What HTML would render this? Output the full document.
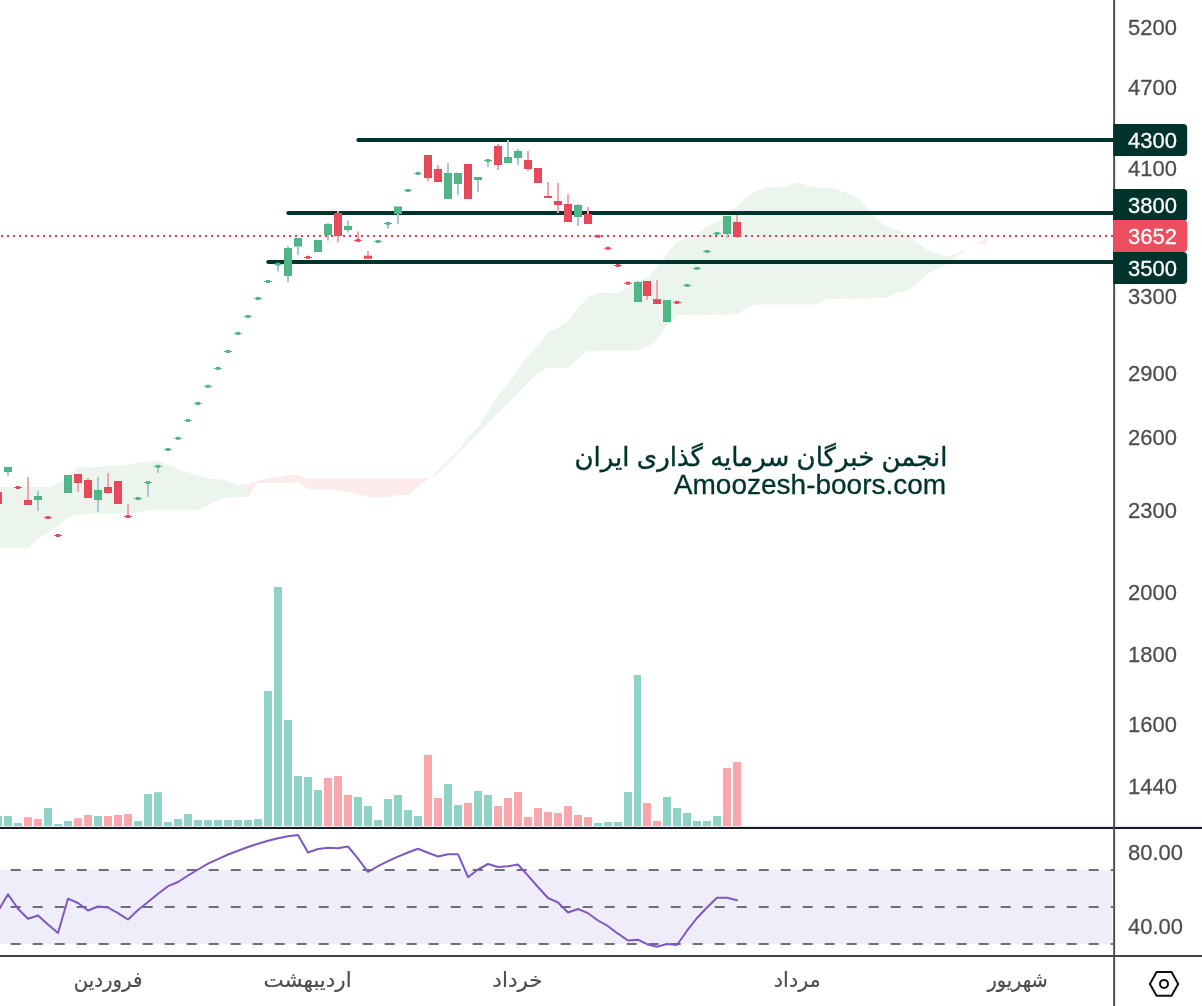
<!DOCTYPE html>
<html lang="fa"><head><meta charset="utf-8"><title>Chart</title><style>html,body{margin:0;padding:0;background:#fff}body{width:1202px;height:1006px;overflow:hidden}</style></head><body>
<svg width="1202" height="1006" viewBox="0 0 1202 1006" style="display:block">
<rect width="1202" height="1006" fill="#fff"/>
<polygon fill="#ecf5ed" points="0.0,487.0 50.0,487.0 62.0,481.0 77.0,467.5 120.0,465.5 138.0,462.7 158.0,461.0 185.0,471.5 200.0,475.7 208.6,479.0 218.0,479.0 227.0,480.7 238.0,485.0 248.0,484.0 248.0,496.7 227.0,497.4 218.0,500.0 198.0,510.0 148.0,510.0 135.0,513.0 77.0,514.5 68.0,517.5 57.0,526.5 40.0,537.5 28.0,548.0 0.0,548.0"/>
<polygon fill="#fdebec" points="248.0,484.0 258.0,481.0 268.0,478.5 288.0,475.0 298.0,475.0 308.0,478.3 430.3,478.3 430.3,477.8 419.0,485.5 408.0,495.0 398.0,495.0 389.0,497.0 368.0,497.0 355.0,493.5 340.0,491.3 328.0,489.0 308.0,489.0 298.0,481.8 288.0,482.9 257.0,482.9 248.0,496.7"/>
<polygon fill="#ecf5ed" points="430.3,477.6 457.5,451.7 467.8,437.5 478.0,427.0 498.0,396.0 507.9,384.0 524.7,360.0 538.0,345.0 548.0,332.5 558.0,327.5 568.0,320.9 578.0,307.9 588.0,296.9 598.0,293.1 618.0,292.9 628.0,286.9 638.0,282.0 648.0,277.5 658.0,266.0 667.0,254.0 677.0,241.4 687.0,237.9 697.0,233.9 707.0,226.9 717.0,220.9 727.0,214.5 737.0,206.0 747.0,197.0 757.0,190.5 767.0,187.2 786.5,187.0 797.0,182.3 807.0,185.6 817.0,187.3 836.0,189.0 846.0,192.7 857.0,197.0 867.6,207.9 877.0,219.8 887.0,226.7 906.6,233.8 916.0,241.4 926.6,249.6 937.0,253.0 947.0,256.5 966.6,249.6 966.6,249.6 954.0,258.7 945.0,265.0 927.5,274.0 915.8,285.0 906.6,291.6 897.0,292.0 887.0,298.0 826.5,298.7 817.0,304.5 757.0,304.5 748.7,306.7 737.7,314.0 720.0,314.5 680.0,314.9 676.0,315.9 670.0,321.9 656.0,340.0 647.5,347.0 637.5,350.5 587.5,351.0 568.0,367.5 548.0,367.8 537.6,373.0 438.0,474.3 430.3,477.6"/>
<polygon fill="#fdebec" points="966.6,249.6 987.0,237.5 987.0,243.7 978.0,243.7 966.6,249.6"/>
<line x1="358.3" y1="140" x2="1116" y2="140" stroke="#00332b" stroke-width="4" stroke-linecap="round"/>
<line x1="288.3" y1="213" x2="1116" y2="213" stroke="#00332b" stroke-width="4" stroke-linecap="round"/>
<line x1="268.3" y1="262" x2="1116" y2="262" stroke="#00332b" stroke-width="4" stroke-linecap="round"/>
<line x1="1.0" y1="236" x2="1114" y2="236" stroke="#e8394f" stroke-width="2" stroke-dasharray="2 4"/>
<rect x="-5.5" y="492.5" width="7" height="11.0" fill="#e84a5b" stroke="#e74456" stroke-width="1"/>
<rect x="7.0" y="472.0" width="2" height="4.0" fill="#a5c9d4"/>
<rect x="4.5" y="467.5" width="7" height="4.0" fill="#52b788" stroke="#4bb381" stroke-width="1"/>
<rect x="14.0" y="487.0" width="8" height="1" fill="#e84a5b"/>
<rect x="16.0" y="486.0" width="4" height="3" fill="#e84a5b"/>
<rect x="27.0" y="477.0" width="2" height="23.0" fill="#f4a4ae"/>
<rect x="24.5" y="500.5" width="7" height="4.0" fill="#e84a5b" stroke="#e74456" stroke-width="1"/>
<rect x="37.0" y="491.0" width="2" height="5.0" fill="#a5c9d4"/>
<rect x="37.0" y="500.0" width="2" height="11.0" fill="#a5c9d4"/>
<rect x="34.5" y="496.5" width="7" height="3.0" fill="#52b788" stroke="#4bb381" stroke-width="1"/>
<rect x="44.0" y="517.0" width="8" height="1" fill="#e84a5b"/>
<rect x="46.0" y="516.0" width="4" height="3" fill="#e84a5b"/>
<rect x="54.0" y="535.0" width="8" height="1" fill="#e84a5b"/>
<rect x="56.0" y="534.0" width="4" height="3" fill="#e84a5b"/>
<rect x="64.5" y="475.5" width="7" height="17.0" fill="#52b788" stroke="#4bb381" stroke-width="1"/>
<rect x="77.0" y="483.0" width="2" height="9.0" fill="#f4a4ae"/>
<rect x="74.5" y="474.5" width="7" height="8.0" fill="#e84a5b" stroke="#e74456" stroke-width="1"/>
<rect x="87.0" y="478.0" width="2" height="2.0" fill="#f4a4ae"/>
<rect x="84.5" y="480.5" width="7" height="17.0" fill="#e84a5b" stroke="#e74456" stroke-width="1"/>
<rect x="97.0" y="477.0" width="2" height="13.0" fill="#a5c9d4"/>
<rect x="97.0" y="500.0" width="2" height="12.0" fill="#a5c9d4"/>
<rect x="94.5" y="490.5" width="7" height="9.0" fill="#52b788" stroke="#4bb381" stroke-width="1"/>
<rect x="107.0" y="473.0" width="2" height="14.0" fill="#f4a4ae"/>
<rect x="107.0" y="493.0" width="2" height="1.0" fill="#f4a4ae"/>
<rect x="104.5" y="487.5" width="7" height="5.0" fill="#e84a5b" stroke="#e74456" stroke-width="1"/>
<rect x="114.5" y="481.5" width="7" height="22.0" fill="#e84a5b" stroke="#e74456" stroke-width="1"/>
<rect x="127.0" y="504.0" width="2" height="12.5" fill="#f4a4ae"/>
<rect x="124.0" y="516.0" width="8" height="1" fill="#e84a5b"/>
<rect x="126.0" y="515.0" width="4" height="3" fill="#e84a5b"/>
<rect x="134.0" y="498.0" width="8" height="1" fill="#52b788"/>
<rect x="136.0" y="497.0" width="4" height="3" fill="#52b788"/>
<rect x="147.0" y="482.5" width="2" height="14.5" fill="#a5c9d4"/>
<rect x="144.0" y="482.0" width="8" height="1" fill="#52b788"/>
<rect x="146.0" y="481.0" width="4" height="3" fill="#52b788"/>
<rect x="157.0" y="466.3" width="2" height="6.7" fill="#a5c9d4"/>
<rect x="154.0" y="465.8" width="8" height="1" fill="#52b788"/>
<rect x="156.0" y="464.8" width="4" height="3" fill="#52b788"/>
<rect x="164.0" y="449.0" width="8" height="1" fill="#52b788"/>
<rect x="166.0" y="448.0" width="4" height="3" fill="#52b788"/>
<rect x="174.0" y="437.8" width="8" height="1" fill="#52b788"/>
<rect x="176.0" y="436.8" width="4" height="3" fill="#52b788"/>
<rect x="184.0" y="419.9" width="8" height="1" fill="#52b788"/>
<rect x="186.0" y="418.9" width="4" height="3" fill="#52b788"/>
<rect x="194.0" y="402.9" width="8" height="1" fill="#52b788"/>
<rect x="196.0" y="401.9" width="4" height="3" fill="#52b788"/>
<rect x="204.0" y="385.8" width="8" height="1" fill="#52b788"/>
<rect x="206.0" y="384.8" width="4" height="3" fill="#52b788"/>
<rect x="214.0" y="367.9" width="8" height="1" fill="#52b788"/>
<rect x="216.0" y="366.9" width="4" height="3" fill="#52b788"/>
<rect x="224.0" y="351.0" width="8" height="1" fill="#52b788"/>
<rect x="226.0" y="350.0" width="4" height="3" fill="#52b788"/>
<rect x="234.0" y="332.9" width="8" height="1" fill="#52b788"/>
<rect x="236.0" y="331.9" width="4" height="3" fill="#52b788"/>
<rect x="244.0" y="315.9" width="8" height="1" fill="#52b788"/>
<rect x="246.0" y="314.9" width="4" height="3" fill="#52b788"/>
<rect x="254.0" y="298.0" width="8" height="1" fill="#52b788"/>
<rect x="256.0" y="297.0" width="4" height="3" fill="#52b788"/>
<rect x="264.0" y="281.0" width="8" height="1" fill="#52b788"/>
<rect x="266.0" y="280.0" width="4" height="3" fill="#52b788"/>
<rect x="277.0" y="264.2" width="2" height="7.3" fill="#a5c9d4"/>
<rect x="274.0" y="263.7" width="8" height="1" fill="#52b788"/>
<rect x="276.0" y="262.7" width="4" height="3" fill="#52b788"/>
<rect x="287.0" y="246.0" width="2" height="2.0" fill="#a5c9d4"/>
<rect x="287.0" y="276.0" width="2" height="6.0" fill="#a5c9d4"/>
<rect x="284.5" y="248.5" width="7" height="27.0" fill="#52b788" stroke="#4bb381" stroke-width="1"/>
<rect x="297.0" y="246.5" width="2" height="8.5" fill="#a5c9d4"/>
<rect x="294.5" y="238.5" width="7" height="7.5" fill="#52b788" stroke="#4bb381" stroke-width="1"/>
<rect x="304.0" y="256.9" width="8" height="1" fill="#e84a5b"/>
<rect x="306.0" y="255.9" width="4" height="3" fill="#e84a5b"/>
<rect x="314.5" y="240.5" width="7" height="11.0" fill="#52b788" stroke="#4bb381" stroke-width="1"/>
<rect x="327.0" y="223.0" width="2" height="1.0" fill="#a5c9d4"/>
<rect x="327.0" y="235.0" width="2" height="5.5" fill="#a5c9d4"/>
<rect x="324.5" y="224.5" width="7" height="10.0" fill="#52b788" stroke="#4bb381" stroke-width="1"/>
<rect x="337.0" y="211.0" width="2" height="2.0" fill="#f4a4ae"/>
<rect x="337.0" y="236.0" width="2" height="6.5" fill="#f4a4ae"/>
<rect x="334.5" y="213.5" width="7" height="22.0" fill="#e84a5b" stroke="#e74456" stroke-width="1"/>
<rect x="347.0" y="220.5" width="2" height="5.5" fill="#a5c9d4"/>
<rect x="347.0" y="230.0" width="2" height="2.5" fill="#a5c9d4"/>
<rect x="344.5" y="226.5" width="7" height="3.0" fill="#52b788" stroke="#4bb381" stroke-width="1"/>
<rect x="357.0" y="231.4" width="2" height="9.0" fill="#f4a4ae"/>
<rect x="354.0" y="239.9" width="8" height="1" fill="#e84a5b"/>
<rect x="356.0" y="238.9" width="4" height="3" fill="#e84a5b"/>
<rect x="367.0" y="251.0" width="2" height="4.7" fill="#f4a4ae"/>
<rect x="364.5" y="256.2" width="7" height="2.0" fill="#e84a5b" stroke="#e74456" stroke-width="1"/>
<rect x="374.0" y="240.9" width="8" height="1" fill="#52b788"/>
<rect x="376.0" y="239.9" width="4" height="3" fill="#52b788"/>
<rect x="387.0" y="223.5" width="2" height="5.0" fill="#a5c9d4"/>
<rect x="384.0" y="223.0" width="8" height="1" fill="#52b788"/>
<rect x="386.0" y="222.0" width="4" height="3" fill="#52b788"/>
<rect x="397.0" y="214.0" width="2" height="10.0" fill="#a5c9d4"/>
<rect x="394.5" y="207.0" width="7" height="6.5" fill="#52b788" stroke="#4bb381" stroke-width="1"/>
<rect x="404.0" y="189.9" width="8" height="1" fill="#52b788"/>
<rect x="406.0" y="188.9" width="4" height="3" fill="#52b788"/>
<rect x="414.0" y="172.9" width="8" height="1" fill="#52b788"/>
<rect x="416.0" y="171.9" width="4" height="3" fill="#52b788"/>
<rect x="427.0" y="178.0" width="2" height="3.0" fill="#f4a4ae"/>
<rect x="424.5" y="155.5" width="7" height="22.0" fill="#e84a5b" stroke="#e74456" stroke-width="1"/>
<rect x="437.0" y="165.0" width="2" height="4.0" fill="#f4a4ae"/>
<rect x="434.5" y="169.5" width="7" height="12.0" fill="#e84a5b" stroke="#e74456" stroke-width="1"/>
<rect x="447.0" y="163.0" width="2" height="10.0" fill="#a5c9d4"/>
<rect x="444.5" y="173.5" width="7" height="25.0" fill="#52b788" stroke="#4bb381" stroke-width="1"/>
<rect x="457.0" y="184.0" width="2" height="11.0" fill="#a5c9d4"/>
<rect x="454.5" y="173.5" width="7" height="10.0" fill="#52b788" stroke="#4bb381" stroke-width="1"/>
<rect x="464.5" y="164.5" width="7" height="34.0" fill="#e84a5b" stroke="#e74456" stroke-width="1"/>
<rect x="477.0" y="180.0" width="2" height="12.0" fill="#a5c9d4"/>
<rect x="474.5" y="177.5" width="7" height="2.0" fill="#52b788" stroke="#4bb381" stroke-width="1"/>
<rect x="487.0" y="160.5" width="2" height="6.5" fill="#a5c9d4"/>
<rect x="484.0" y="160.0" width="8" height="1" fill="#52b788"/>
<rect x="486.0" y="159.0" width="4" height="3" fill="#52b788"/>
<rect x="497.0" y="144.0" width="2" height="2.0" fill="#f4a4ae"/>
<rect x="497.0" y="165.0" width="2" height="5.0" fill="#f4a4ae"/>
<rect x="494.5" y="146.5" width="7" height="18.0" fill="#e84a5b" stroke="#e74456" stroke-width="1"/>
<rect x="507.0" y="140.0" width="2" height="17.0" fill="#a5c9d4"/>
<rect x="504.5" y="157.5" width="7" height="5.0" fill="#52b788" stroke="#4bb381" stroke-width="1"/>
<rect x="517.0" y="149.0" width="2" height="2.0" fill="#a5c9d4"/>
<rect x="517.0" y="158.0" width="2" height="7.0" fill="#a5c9d4"/>
<rect x="514.5" y="151.5" width="7" height="6.0" fill="#52b788" stroke="#4bb381" stroke-width="1"/>
<rect x="527.0" y="151.0" width="2" height="9.0" fill="#f4a4ae"/>
<rect x="527.0" y="169.0" width="2" height="2.0" fill="#f4a4ae"/>
<rect x="524.5" y="160.5" width="7" height="8.0" fill="#e84a5b" stroke="#e74456" stroke-width="1"/>
<rect x="534.5" y="168.5" width="7" height="14.0" fill="#e84a5b" stroke="#e74456" stroke-width="1"/>
<rect x="547.0" y="182.0" width="2" height="14.0" fill="#f4a4ae"/>
<rect x="544.0" y="196.0" width="8" height="2.0" fill="#e74456"/>
<rect x="557.0" y="183.0" width="2" height="18.0" fill="#f4a4ae"/>
<rect x="557.0" y="205.0" width="2" height="8.0" fill="#f4a4ae"/>
<rect x="554.5" y="201.5" width="7" height="3.0" fill="#e84a5b" stroke="#e74456" stroke-width="1"/>
<rect x="567.0" y="194.0" width="2" height="10.0" fill="#f4a4ae"/>
<rect x="564.5" y="204.5" width="7" height="17.0" fill="#e84a5b" stroke="#e74456" stroke-width="1"/>
<rect x="577.0" y="204.0" width="2" height="1.0" fill="#a5c9d4"/>
<rect x="577.0" y="217.0" width="2" height="9.0" fill="#a5c9d4"/>
<rect x="574.5" y="205.5" width="7" height="11.0" fill="#52b788" stroke="#4bb381" stroke-width="1"/>
<rect x="587.0" y="207.0" width="2" height="7.0" fill="#f4a4ae"/>
<rect x="584.5" y="214.5" width="7" height="9.0" fill="#e84a5b" stroke="#e74456" stroke-width="1"/>
<rect x="594.0" y="235.8" width="8" height="1" fill="#e84a5b"/>
<rect x="596.0" y="234.8" width="4" height="3" fill="#e84a5b"/>
<rect x="604.0" y="247.8" width="8" height="1" fill="#e84a5b"/>
<rect x="606.0" y="246.8" width="4" height="3" fill="#e84a5b"/>
<rect x="614.0" y="265.0" width="8" height="1" fill="#e84a5b"/>
<rect x="616.0" y="264.0" width="4" height="3" fill="#e84a5b"/>
<rect x="624.0" y="282.7" width="8" height="1" fill="#e84a5b"/>
<rect x="626.0" y="281.7" width="4" height="3" fill="#e84a5b"/>
<rect x="637.0" y="281.0" width="2" height="1.0" fill="#a5c9d4"/>
<rect x="634.5" y="282.5" width="7" height="19.0" fill="#52b788" stroke="#4bb381" stroke-width="1"/>
<rect x="646.0" y="296.0" width="2" height="4.0" fill="#f4a4ae"/>
<rect x="643.5" y="281.5" width="7" height="14.0" fill="#e84a5b" stroke="#e74456" stroke-width="1"/>
<rect x="656.0" y="280.0" width="2" height="19.2" fill="#f4a4ae"/>
<rect x="653.5" y="299.7" width="7" height="3.8" fill="#e84a5b" stroke="#e74456" stroke-width="1"/>
<rect x="663.5" y="300.5" width="7" height="21.0" fill="#52b788" stroke="#4bb381" stroke-width="1"/>
<rect x="673.0" y="301.9" width="8" height="1" fill="#e84a5b"/>
<rect x="675.0" y="300.9" width="4" height="3" fill="#e84a5b"/>
<rect x="683.0" y="284.9" width="8" height="1" fill="#52b788"/>
<rect x="685.0" y="283.9" width="4" height="3" fill="#52b788"/>
<rect x="693.0" y="267.9" width="8" height="1" fill="#52b788"/>
<rect x="695.0" y="266.9" width="4" height="3" fill="#52b788"/>
<rect x="703.0" y="250.9" width="8" height="1" fill="#52b788"/>
<rect x="705.0" y="249.9" width="4" height="3" fill="#52b788"/>
<rect x="713.0" y="232.9" width="8" height="1" fill="#52b788"/>
<rect x="715.0" y="231.9" width="4" height="3" fill="#52b788"/>
<rect x="726.0" y="234.0" width="2" height="4.0" fill="#a5c9d4"/>
<rect x="723.5" y="216.5" width="7" height="17.0" fill="#52b788" stroke="#4bb381" stroke-width="1"/>
<rect x="736.0" y="215.0" width="2" height="7.0" fill="#f4a4ae"/>
<rect x="736.0" y="237.0" width="2" height="1.0" fill="#f4a4ae"/>
<rect x="733.5" y="222.5" width="7" height="14.0" fill="#e84a5b" stroke="#e74456" stroke-width="1"/>
<rect x="-6.0" y="816.0" width="8.0" height="10.0" fill="#8fd3c6"/>
<rect x="4.0" y="816.0" width="8.0" height="10.0" fill="#8fd3c6"/>
<rect x="14.0" y="823.0" width="8.0" height="3.0" fill="#8fd3c6"/>
<rect x="24.0" y="817.2" width="8.0" height="8.8" fill="#f9a7ad"/>
<rect x="34.0" y="819.0" width="8.0" height="7.0" fill="#f9a7ad"/>
<rect x="44.0" y="808.0" width="8.0" height="18.0" fill="#8fd3c6"/>
<rect x="54.0" y="824.0" width="8.0" height="2.0" fill="#8fd3c6"/>
<rect x="64.0" y="821.0" width="8.0" height="5.0" fill="#8fd3c6"/>
<rect x="74.0" y="818.2" width="8.0" height="7.8" fill="#f9a7ad"/>
<rect x="84.0" y="815.0" width="8.0" height="11.0" fill="#f9a7ad"/>
<rect x="94.0" y="816.0" width="8.0" height="10.0" fill="#8fd3c6"/>
<rect x="104.0" y="816.0" width="8.0" height="10.0" fill="#f9a7ad"/>
<rect x="114.0" y="815.0" width="8.0" height="11.0" fill="#f9a7ad"/>
<rect x="124.0" y="814.0" width="8.0" height="12.0" fill="#f9a7ad"/>
<rect x="134.0" y="821.0" width="8.0" height="5.0" fill="#8fd3c6"/>
<rect x="144.0" y="794.0" width="8.0" height="32.0" fill="#8fd3c6"/>
<rect x="154.0" y="792.2" width="8.0" height="33.8" fill="#8fd3c6"/>
<rect x="164.0" y="822.0" width="8.0" height="4.0" fill="#8fd3c6"/>
<rect x="174.0" y="819.0" width="8.0" height="7.0" fill="#8fd3c6"/>
<rect x="184.0" y="814.0" width="8.0" height="12.0" fill="#8fd3c6"/>
<rect x="194.0" y="820.0" width="8.0" height="6.0" fill="#8fd3c6"/>
<rect x="204.0" y="820.0" width="8.0" height="6.0" fill="#8fd3c6"/>
<rect x="214.0" y="820.0" width="8.0" height="6.0" fill="#8fd3c6"/>
<rect x="224.0" y="820.0" width="8.0" height="6.0" fill="#8fd3c6"/>
<rect x="234.0" y="820.0" width="8.0" height="6.0" fill="#8fd3c6"/>
<rect x="244.0" y="820.0" width="8.0" height="6.0" fill="#8fd3c6"/>
<rect x="254.0" y="819.0" width="8.0" height="7.0" fill="#8fd3c6"/>
<rect x="264.0" y="691.0" width="8.0" height="135.0" fill="#8fd3c6"/>
<rect x="274.0" y="587.0" width="8.0" height="239.0" fill="#8fd3c6"/>
<rect x="284.0" y="720.0" width="8.0" height="106.0" fill="#8fd3c6"/>
<rect x="294.0" y="776.0" width="8.0" height="50.0" fill="#8fd3c6"/>
<rect x="304.0" y="777.0" width="8.0" height="49.0" fill="#8fd3c6"/>
<rect x="314.0" y="790.0" width="8.0" height="36.0" fill="#8fd3c6"/>
<rect x="324.0" y="778.0" width="8.0" height="48.0" fill="#f9a7ad"/>
<rect x="334.0" y="776.0" width="8.0" height="50.0" fill="#f9a7ad"/>
<rect x="344.0" y="795.0" width="8.0" height="31.0" fill="#f9a7ad"/>
<rect x="354.0" y="797.0" width="8.0" height="29.0" fill="#8fd3c6"/>
<rect x="364.0" y="806.0" width="8.0" height="20.0" fill="#8fd3c6"/>
<rect x="374.0" y="820.0" width="8.0" height="6.0" fill="#8fd3c6"/>
<rect x="384.0" y="799.0" width="8.0" height="27.0" fill="#8fd3c6"/>
<rect x="394.0" y="795.0" width="8.0" height="31.0" fill="#8fd3c6"/>
<rect x="404.0" y="810.0" width="8.0" height="16.0" fill="#8fd3c6"/>
<rect x="414.0" y="816.0" width="8.0" height="10.0" fill="#8fd3c6"/>
<rect x="424.0" y="755.0" width="8.0" height="71.0" fill="#f9a7ad"/>
<rect x="434.0" y="798.0" width="8.0" height="28.0" fill="#f9a7ad"/>
<rect x="444.0" y="784.0" width="8.0" height="42.0" fill="#8fd3c6"/>
<rect x="454.0" y="805.0" width="8.0" height="21.0" fill="#8fd3c6"/>
<rect x="464.0" y="803.0" width="8.0" height="23.0" fill="#f9a7ad"/>
<rect x="474.0" y="791.0" width="8.0" height="35.0" fill="#8fd3c6"/>
<rect x="484.0" y="795.0" width="8.0" height="31.0" fill="#8fd3c6"/>
<rect x="494.0" y="806.0" width="8.0" height="20.0" fill="#f9a7ad"/>
<rect x="504.0" y="798.0" width="8.0" height="28.0" fill="#f9a7ad"/>
<rect x="514.0" y="792.0" width="8.0" height="34.0" fill="#f9a7ad"/>
<rect x="524.0" y="817.0" width="8.0" height="9.0" fill="#f9a7ad"/>
<rect x="534.0" y="808.0" width="8.0" height="18.0" fill="#f9a7ad"/>
<rect x="544.0" y="812.0" width="8.0" height="14.0" fill="#f9a7ad"/>
<rect x="554.0" y="813.0" width="8.0" height="13.0" fill="#f9a7ad"/>
<rect x="564.0" y="806.0" width="8.0" height="20.0" fill="#f9a7ad"/>
<rect x="574.0" y="815.0" width="8.0" height="11.0" fill="#f9a7ad"/>
<rect x="584.0" y="817.0" width="8.0" height="9.0" fill="#f9a7ad"/>
<rect x="594.0" y="823.0" width="8.0" height="3.0" fill="#8fd3c6"/>
<rect x="604.0" y="822.0" width="8.0" height="4.0" fill="#8fd3c6"/>
<rect x="614.0" y="822.0" width="8.0" height="4.0" fill="#8fd3c6"/>
<rect x="624.0" y="792.0" width="8.0" height="34.0" fill="#8fd3c6"/>
<rect x="634.0" y="675.0" width="7.0" height="151.0" fill="#8fd3c6"/>
<rect x="643.0" y="803.0" width="8.0" height="23.0" fill="#f9a7ad"/>
<rect x="653.0" y="821.0" width="8.0" height="5.0" fill="#f9a7ad"/>
<rect x="663.0" y="797.0" width="8.0" height="29.0" fill="#8fd3c6"/>
<rect x="673.0" y="808.0" width="8.0" height="18.0" fill="#8fd3c6"/>
<rect x="683.0" y="813.0" width="8.0" height="13.0" fill="#8fd3c6"/>
<rect x="693.0" y="821.0" width="8.0" height="5.0" fill="#8fd3c6"/>
<rect x="703.0" y="821.0" width="8.0" height="5.0" fill="#8fd3c6"/>
<rect x="713.0" y="816.0" width="8.0" height="10.0" fill="#8fd3c6"/>
<rect x="723.0" y="768.0" width="8.0" height="58.0" fill="#f9a7ad"/>
<rect x="733.0" y="762.0" width="8.0" height="64.0" fill="#f9a7ad"/>
<rect x="0" y="870" width="1112.5" height="74" fill="#f0edfa"/>
<line x1="-11.3" y1="870" x2="1113" y2="870" stroke="#6c6e7a" stroke-width="2" stroke-dasharray="10 12"/>
<line x1="-11.3" y1="907" x2="1113" y2="907" stroke="#6c6e7a" stroke-width="2" stroke-dasharray="10 12"/>
<line x1="-11.3" y1="944" x2="1113" y2="944" stroke="#6c6e7a" stroke-width="2" stroke-dasharray="10 12"/>
<polyline fill="none" stroke="#7e57c2" stroke-width="2" stroke-linejoin="round" stroke-linecap="round" points="-2.0,911.2 8.0,894.2 18.0,908.7 28.0,918.7 38.0,915.5 48.0,924.5 58.0,933.0 68.0,898.7 78.0,903.0 88.0,910.5 98.0,906.5 108.0,907.5 118.0,913.2 128.0,919.5 138.0,910.0 148.0,902.0 158.0,893.7 168.0,886.2 178.0,882.0 188.0,875.5 198.0,869.5 208.0,863.7 218.0,859.2 228.0,854.5 238.0,850.7 248.0,847.0 258.0,843.7 268.0,840.7 278.0,838.2 288.0,836.2 298.0,835.0 308.0,852.5 318.0,849.0 328.0,847.7 338.0,848.2 348.0,846.5 358.0,858.7 368.0,872.0 378.0,866.2 388.0,861.2 398.0,856.7 408.0,852.5 418.0,848.7 428.0,852.7 438.0,856.5 448.0,854.2 458.0,854.2 468.0,877.2 478.0,869.5 488.0,864.0 498.0,867.0 508.0,866.2 518.0,864.5 528.0,875.7 538.0,887.0 548.0,898.0 558.0,902.5 568.0,912.5 578.0,909.0 588.0,913.2 598.0,920.5 608.0,926.2 618.0,933.7 628.0,940.5 638.0,939.7 647.0,944.2 657.0,946.7 667.0,944.0 677.0,945.0 687.0,930.7 697.0,918.0 707.0,907.5 717.0,897.7 727.0,897.7 737.0,900.2"/>
<rect x="0" y="826.9" width="1202" height="2.1" fill="#171a29"/>
<rect x="0" y="955" width="1202" height="2" fill="#444"/>
<rect x="1113.2" y="0" width="1.9" height="1006" fill="#4a4a4a"/>
<text transform="translate(1128 34.6) scale(1 1.035)" font-family="'Liberation Sans',Arial,sans-serif" font-size="22" fill="#4d4d4d" stroke="#4d4d4d" stroke-width="0.25">5200</text>
<text transform="translate(1128 94.5) scale(1 1.035)" font-family="'Liberation Sans',Arial,sans-serif" font-size="22" fill="#4d4d4d" stroke="#4d4d4d" stroke-width="0.25">4700</text>
<text transform="translate(1128 175.8) scale(1 1.035)" font-family="'Liberation Sans',Arial,sans-serif" font-size="22" fill="#4d4d4d" stroke="#4d4d4d" stroke-width="0.25">4100</text>
<text transform="translate(1128 303.7) scale(1 1.035)" font-family="'Liberation Sans',Arial,sans-serif" font-size="22" fill="#4d4d4d" stroke="#4d4d4d" stroke-width="0.25">3300</text>
<text transform="translate(1128 380.7) scale(1 1.035)" font-family="'Liberation Sans',Arial,sans-serif" font-size="22" fill="#4d4d4d" stroke="#4d4d4d" stroke-width="0.25">2900</text>
<text transform="translate(1128 444.7) scale(1 1.035)" font-family="'Liberation Sans',Arial,sans-serif" font-size="22" fill="#4d4d4d" stroke="#4d4d4d" stroke-width="0.25">2600</text>
<text transform="translate(1128 517.7) scale(1 1.035)" font-family="'Liberation Sans',Arial,sans-serif" font-size="22" fill="#4d4d4d" stroke="#4d4d4d" stroke-width="0.25">2300</text>
<text transform="translate(1128 599.7) scale(1 1.035)" font-family="'Liberation Sans',Arial,sans-serif" font-size="22" fill="#4d4d4d" stroke="#4d4d4d" stroke-width="0.25">2000</text>
<text transform="translate(1128 661.7) scale(1 1.035)" font-family="'Liberation Sans',Arial,sans-serif" font-size="22" fill="#4d4d4d" stroke="#4d4d4d" stroke-width="0.25">1800</text>
<text transform="translate(1128 731.7) scale(1 1.035)" font-family="'Liberation Sans',Arial,sans-serif" font-size="22" fill="#4d4d4d" stroke="#4d4d4d" stroke-width="0.25">1600</text>
<text transform="translate(1128 793.7) scale(1 1.035)" font-family="'Liberation Sans',Arial,sans-serif" font-size="22" fill="#4d4d4d" stroke="#4d4d4d" stroke-width="0.25">1440</text>
<text transform="translate(1128 859.7) scale(1 1.035)" font-family="'Liberation Sans',Arial,sans-serif" font-size="22" fill="#4d4d4d" stroke="#4d4d4d" stroke-width="0.25">80.00</text>
<text transform="translate(1128 933.7) scale(1 1.035)" font-family="'Liberation Sans',Arial,sans-serif" font-size="22" fill="#4d4d4d" stroke="#4d4d4d" stroke-width="0.25">40.00</text>
<path d="M1113.2 124 h70 a4 4 0 0 1 4 4 v24 a4 4 0 0 1 -4 4 h-70 z" fill="#00332b"/>
<text transform="translate(1128 148.2) scale(1 1.035)" font-family="'Liberation Sans',Arial,sans-serif" font-size="22" fill="#fff" stroke="#fff" stroke-width="0.3">4300</text>
<path d="M1113.2 189 h70 a4 4 0 0 1 4 4 v24 a4 4 0 0 1 -4 4 h-70 z" fill="#00332b"/>
<text transform="translate(1128 213.2) scale(1 1.035)" font-family="'Liberation Sans',Arial,sans-serif" font-size="22" fill="#fff" stroke="#fff" stroke-width="0.3">3800</text>
<path d="M1113.2 220 h70 a4 4 0 0 1 4 4 v24 a4 4 0 0 1 -4 4 h-70 z" fill="#ec4d5f"/>
<text transform="translate(1128 244.2) scale(1 1.035)" font-family="'Liberation Sans',Arial,sans-serif" font-size="22" fill="#fff" stroke="#fff" stroke-width="0.3">3652</text>
<path d="M1113.2 252 h70 a4 4 0 0 1 4 4 v24 a4 4 0 0 1 -4 4 h-70 z" fill="#00332b"/>
<text transform="translate(1128 276.2) scale(1 1.035)" font-family="'Liberation Sans',Arial,sans-serif" font-size="22" fill="#fff" stroke="#fff" stroke-width="0.3">3500</text>
<text x="947.5" y="466" text-anchor="end" font-family="'Liberation Sans','DejaVu Sans',sans-serif" font-size="26" fill="#00332b" stroke="#00332b" stroke-width="0.4">انجمن خبرگان سرمایه گذاری ایران</text>
<text x="946.2" y="493.7" text-anchor="end" font-family="'Liberation Sans',Arial,sans-serif" font-size="28" fill="#00332b" stroke="#00332b" stroke-width="0.3">Amoozesh-boors.com</text>
<text transform="translate(108.05 987.3) scale(0.942 1)" text-anchor="middle" direction="rtl" font-family="'Liberation Sans','DejaVu Sans',sans-serif" font-size="21" fill="#4d4d4d" stroke="#4d4d4d" stroke-width="0.2">فروردین</text>
<text transform="translate(307.50 987.3) scale(1.020 1)" text-anchor="middle" direction="rtl" font-family="'Liberation Sans','DejaVu Sans',sans-serif" font-size="21" fill="#4d4d4d" stroke="#4d4d4d" stroke-width="0.2">اردیبهشت</text>
<text transform="translate(517.50 987.3) scale(1.025 1)" text-anchor="middle" direction="rtl" font-family="'Liberation Sans','DejaVu Sans',sans-serif" font-size="21" fill="#4d4d4d" stroke="#4d4d4d" stroke-width="0.2">خرداد</text>
<text transform="translate(797.30 987.3) scale(0.990 1)" text-anchor="middle" direction="rtl" font-family="'Liberation Sans','DejaVu Sans',sans-serif" font-size="21" fill="#4d4d4d" stroke="#4d4d4d" stroke-width="0.2">مرداد</text>
<text transform="translate(1017.60 987.3) scale(0.920 1)" text-anchor="middle" direction="rtl" font-family="'Liberation Sans','DejaVu Sans',sans-serif" font-size="21" fill="#4d4d4d" stroke="#4d4d4d" stroke-width="0.2">شهریور</text>
<polygon points="1149.9,983.9 1156.6,972 1171.5,972 1178.2,983.9 1171.5,995.8 1156.6,995.8" fill="none" stroke="#0d0f1c" stroke-width="2" stroke-linejoin="miter"/>
<circle cx="1164" cy="983.9" r="4" fill="none" stroke="#0d0f1c" stroke-width="2"/>
</svg>
</body></html>
